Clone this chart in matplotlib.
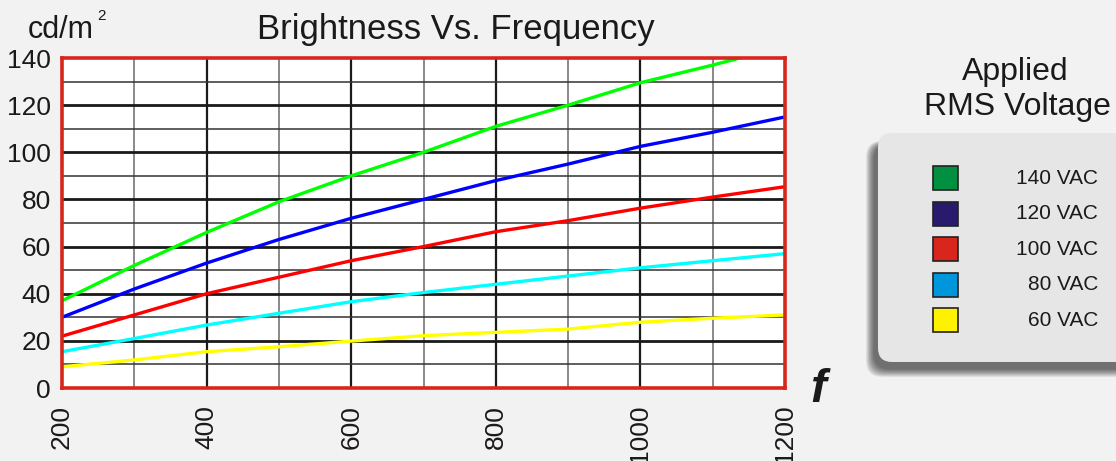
import matplotlib.pyplot as plt
from matplotlib.patches import FancyBboxPatch, Rectangle

plt.rcParams['font.family'] = ['Liberation Sans', 'DejaVu Sans']

freq = [200, 300, 400, 500, 600, 700, 800, 900, 1000, 1100, 1200]
vac140 = [37, 52, 66, 79, 90, 100, 111, 120, 129.5, 137, 145]
vac120 = [30, 42, 53, 63, 72, 80, 88, 95, 102.5, 108.5, 115]
vac100 = [22, 31, 40, 47, 54, 60, 66.3, 71, 76.3, 81, 85.4]
vac80 = [15.4, 21, 26.7, 31.7, 36.6, 40.5, 44, 47.5, 51, 54, 57]
vac60 = [9, 11.9, 15.4, 17.5, 19.9, 22.2, 23.6, 25, 27.9, 29.6, 31]

series = [
    ("140 VAC", vac140, "#00ff00", "#009040"),
    ("120 VAC", vac120, "#0000ff", "#2a1a6e"),
    ("100 VAC", vac100, "#ff0000", "#d9261c"),
    ("80 VAC", vac80, "#00ffff", "#0096dc"),
    ("60 VAC", vac60, "#ffff00", "#fff200"),
]

W, H = 1116, 461
fig = plt.figure(figsize=(W / 100, H / 100), dpi=100, facecolor="#f2f2f2")

# overlay in pixel coords for the decorations
ov = fig.add_axes([0, 0, 1, 1], zorder=0)
ov.set_xlim(0, W)
ov.set_ylim(H, 0)
ov.axis("off")

x0, x1, y0, y1 = 62, 785, 58, 388
ax = fig.add_axes([x0 / W, 1 - y1 / H, (x1 - x0) / W, (y1 - y0) / H], zorder=2)
ax.set_facecolor("white")
ax.set_xlim(200, 1200)
ax.set_ylim(0, 140)

for xv in range(300, 1200, 100):
    major = xv % 200 == 0
    ax.axvline(xv, color="#1a1a1a" if major else "#808080",
               lw=1.6 if major else 1.3, zorder=1)
for yv in range(10, 140, 10):
    major = yv % 20 == 0
    ax.axhline(yv, color="#1a1a1a" if major else "#333333",
               lw=2.0 if major else 1.1, zorder=1)

for name, vals, lc, sc in series:
    ax.plot(freq, vals, color=lc, lw=2.4, zorder=3, clip_on=True)

for s in ax.spines.values():
    s.set_color("#d9261c")
    s.set_linewidth(2.6)
    s.set_zorder(5)

ax.set_xticks(range(200, 1201, 200))
ax.set_yticks(range(0, 141, 20))
ax.tick_params(length=0, labelsize=19, colors="#1a1a1a")
ax.tick_params(axis="x", labelrotation=90, pad=12)
ax.tick_params(axis="y", pad=8)

ov.text(456, 30, "Brightness Vs. Frequency", ha="center", va="center",
        fontsize=25, color="#1a1a1a")
ov.text(28, 30, "cd/m", ha="left", va="center", fontsize=22, color="#1a1a1a")
ov.text(97, 16, "2", ha="left", va="center", fontsize=11, color="#1a1a1a")
ov.text(818, 390, "f", ha="center", va="center", fontsize=34,
        style="italic", fontweight="bold", color="#1a1a1a")

# legend
ov.text(1015, 72, "Applied", ha="center", va="center", fontsize=23, color="#1a1a1a")
ov.text(1017, 107, "RMS Voltage", ha="center", va="center", fontsize=23, color="#1a1a1a")

for i in range(12):
    ov.add_patch(FancyBboxPatch((866 + i * 0.7, 141 + i * 0.3),
                                300, 236 - i * 1.0,
                                boxstyle="round,pad=0,rounding_size=16",
                                fc="#000000", ec="none", alpha=0.06, zorder=1))
ov.add_patch(FancyBboxPatch((878, 133), 300, 229,
                            boxstyle="round,pad=0,rounding_size=14",
                            fc="#e6e6e6", ec="none", zorder=2))

for i, (name, vals, lc, sc) in enumerate(series):
    yc = 178 + i * 35.5
    ov.add_patch(Rectangle((933, yc - 12), 25, 24, fc=sc, ec="#222222",
                           lw=1.2, zorder=3))
    ov.text(1098, yc, name, ha="right", va="center", fontsize=15,
            color="#1a1a1a", zorder=3)

fig.savefig("out.png", dpi=100, facecolor=fig.get_facecolor())
